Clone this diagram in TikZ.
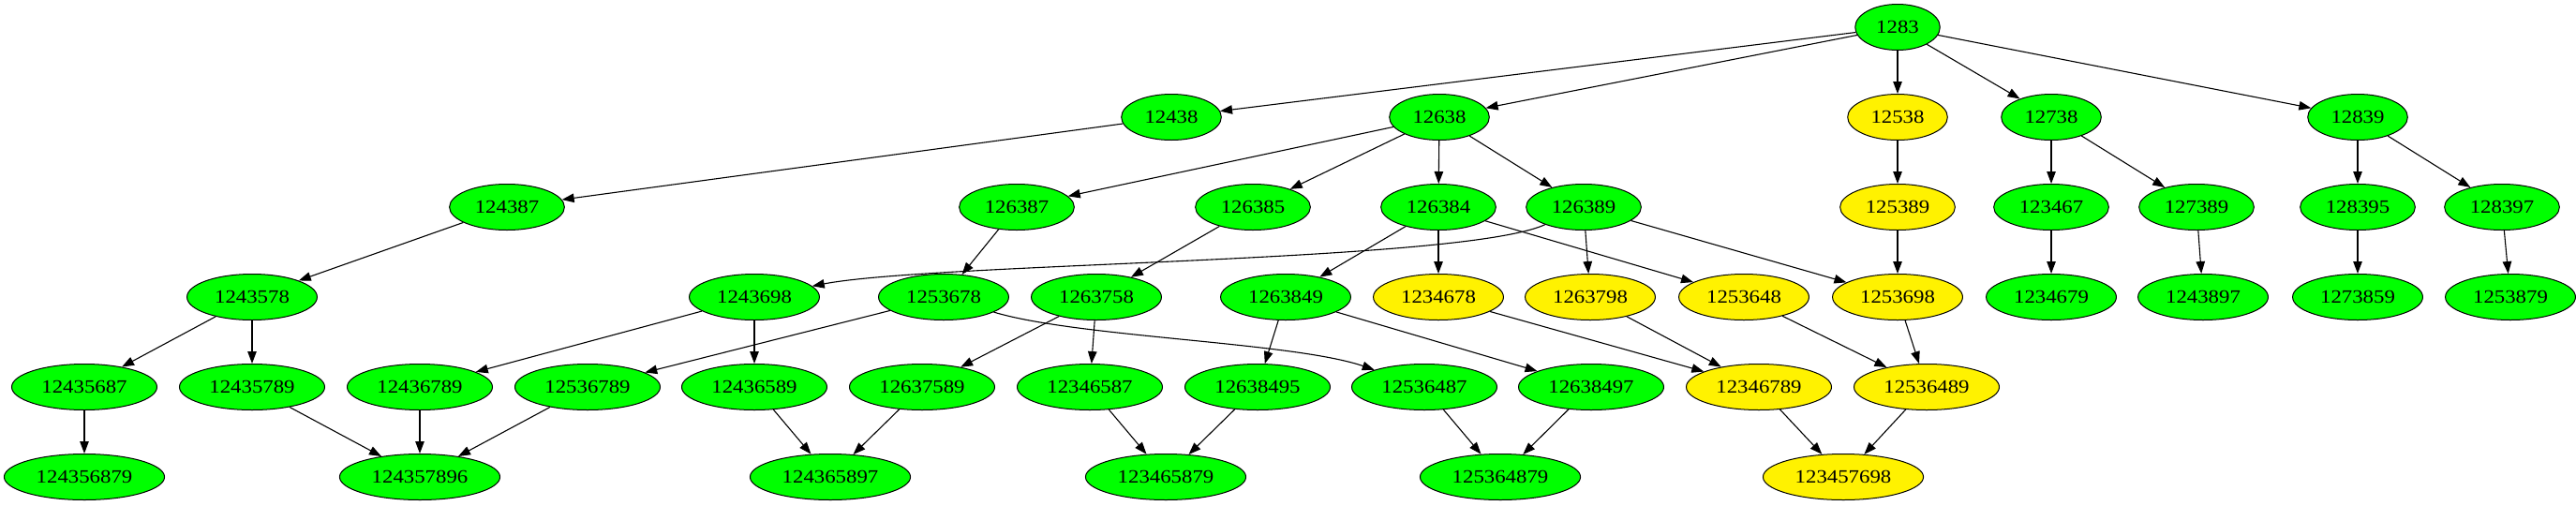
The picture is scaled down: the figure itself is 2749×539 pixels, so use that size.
\documentclass[tikz,border=0pt]{standalone}
\usepackage{fontspec}
\newfontfamily\numfont[FakeStretch=1.14]{Liberation Serif}
\usetikzlibrary{arrows.meta,shapes.geometric}

\tikzset{
  gnode/.style={ellipse, draw=black, line width=1pt, fill=green,
    minimum height=49pt, inner xsep=9.2pt, inner ysep=2pt,
    text height=13.5pt, text depth=0pt,
    font={\numfont\fontsize{20}{24}\selectfont}},
  ynode/.style={gnode, fill=yellow},
  link/.style={-{Triangle[length=13pt,width=9.5pt]}, line width=1.1pt}
}

\begin{document}
\begin{tikzpicture}[x=1pt,y=-1pt]
  \useasboundingbox (0,0) rectangle (2749,539);

  %% row 0
  \node[gnode] (n1283) at (2025,29) {1283};

  %% row 1
  \node[gnode] (n12438) at (1250,125) {12438};
  \node[gnode] (n12638) at (1536,125) {12638};
  \node[ynode] (n12538) at (2025,125) {12538};
  \node[gnode] (n12738) at (2189,125) {12738};
  \node[gnode] (n12839) at (2516,125) {12839};

  %% row 2
  \node[gnode] (n124387) at (541,221) {124387};
  \node[gnode] (n126387) at (1085,221) {126387};
  \node[gnode] (n126385) at (1337,221) {126385};
  \node[gnode] (n126384) at (1535,221) {126384};
  \node[gnode] (n126389) at (1690,221) {126389};
  \node[ynode] (n125389) at (2025,221) {125389};
  \node[gnode] (n123467) at (2189,221) {123467};
  \node[gnode] (n127389) at (2344,221) {127389};
  \node[gnode] (n128395) at (2516,221) {128395};
  \node[gnode] (n128397) at (2670,221) {128397};

  %% row 3
  \node[gnode] (n1243578) at (269,317) {1243578};
  \node[gnode] (n1243698) at (805,317) {1243698};
  \node[gnode] (n1253678) at (1007,317) {1253678};
  \node[gnode] (n1263758) at (1170,317) {1263758};
  \node[gnode] (n1263849) at (1372,317) {1263849};
  \node[ynode] (n1234678) at (1535,317) {1234678};
  \node[ynode] (n1263798) at (1697,317) {1263798};
  \node[ynode] (n1253648) at (1861,317) {1253648};
  \node[ynode] (n1253698) at (2025,317) {1253698};
  \node[gnode] (n1234679) at (2189,317) {1234679};
  \node[gnode] (n1243897) at (2351,317) {1243897};
  \node[gnode] (n1273859) at (2516,317) {1273859};
  \node[gnode] (n1253879) at (2679,317) {1253879};

  %% row 4
  \node[gnode] (n12435687) at (90,413) {12435687};
  \node[gnode] (n12435789) at (269,413) {12435789};
  \node[gnode] (n12436789) at (448,413) {12436789};
  \node[gnode] (n12536789) at (627,413) {12536789};
  \node[gnode] (n12436589) at (805,413) {12436589};
  \node[gnode] (n12637589) at (984,413) {12637589};
  \node[gnode] (n12346587) at (1163,413) {12346587};
  \node[gnode] (n12638495) at (1342,413) {12638495};
  \node[gnode] (n12536487) at (1520,413) {12536487};
  \node[gnode] (n12638497) at (1698,413) {12638497};
  \node[ynode] (n12346789) at (1877,413) {12346789};
  \node[ynode] (n12536489) at (2056,413) {12536489};

  %% row 5
  \node[gnode] (n124356879) at (90,509) {124356879};
  \node[gnode] (n124357896) at (448,509) {124357896};
  \node[gnode] (n124365897) at (886,509) {124365897};
  \node[gnode] (n123465879) at (1244,509) {123465879};
  \node[gnode] (n125364879) at (1601,509) {125364879};
  \node[ynode] (n123457698) at (1967,509) {123457698};

  %% edges from the root
  \draw[link] (n1283) -- (n12438);
  \draw[link] (n1283) -- (n12638);
  \draw[link] (n1283) -- (n12538);
  \draw[link] (n1283) -- (n12738);
  \draw[link] (n1283) -- (n12839);

  %% row 1 -> row 2
  \draw[link] (n12438) -- (n124387);
  \draw[link] (n12638) -- (n126387);
  \draw[link] (n12638) -- (n126385);
  \draw[link] (n12638) -- (n126384);
  \draw[link] (n12638) -- (n126389);
  \draw[link] (n12538) -- (n125389);
  \draw[link] (n12738) -- (n123467);
  \draw[link] (n12738) -- (n127389);
  \draw[link] (n12839) -- (n128395);
  \draw[link] (n12839) -- (n128397);

  %% row 2 -> row 3
  \draw[link] (n124387) -- (n1243578);
  \draw[link] (n126387) -- (n1253678);
  \draw[link] (n126385) -- (n1263758);
  \draw[link] (n126384) -- (n1263849);
  \draw[link] (n126384) -- (n1234678);
  \draw[link] (n126384) -- (n1253648);
  \draw[link] (n126389) .. controls (1560,280) and (1000,280) .. (n1243698);
  \draw[link] (n126389) -- (n1263798);
  \draw[link] (n126389) -- (n1253698);
  \draw[link] (n125389) -- (n1253698);
  \draw[link] (n123467) -- (n1234679);
  \draw[link] (n127389) -- (n1243897);
  \draw[link] (n128395) -- (n1273859);
  \draw[link] (n128397) -- (n1253879);

  %% row 3 -> row 4
  \draw[link] (n1243578) -- (n12435687);
  \draw[link] (n1243578) -- (n12435789);
  \draw[link] (n1243698) -- (n12436789);
  \draw[link] (n1243698) -- (n12436589);
  \draw[link] (n1253678) -- (n12536789);
  \draw[link] (n1253678) .. controls (1150,360) and (1380,365) .. (n12536487);
  \draw[link] (n1263758) -- (n12637589);
  \draw[link] (n1263758) -- (n12346587);
  \draw[link] (n1263849) -- (n12638495);
  \draw[link] (n1263849) -- (n12638497);
  \draw[link] (n1234678) -- (n12346789);
  \draw[link] (n1263798) -- (n12346789);
  \draw[link] (n1253648) -- (n12536489);
  \draw[link] (n1253698) -- (n12536489);

  %% row 4 -> row 5
  \draw[link] (n12435687) -- (n124356879);
  \draw[link] (n12435789) -- (n124357896);
  \draw[link] (n12436789) -- (n124357896);
  \draw[link] (n12536789) -- (n124357896);
  \draw[link] (n12436589) -- (n124365897);
  \draw[link] (n12637589) -- (n124365897);
  \draw[link] (n12346587) -- (n123465879);
  \draw[link] (n12638495) -- (n123465879);
  \draw[link] (n12536487) -- (n125364879);
  \draw[link] (n12638497) -- (n125364879);
  \draw[link] (n12346789) -- (n123457698);
  \draw[link] (n12536489) -- (n123457698);
\end{tikzpicture}
\end{document}
